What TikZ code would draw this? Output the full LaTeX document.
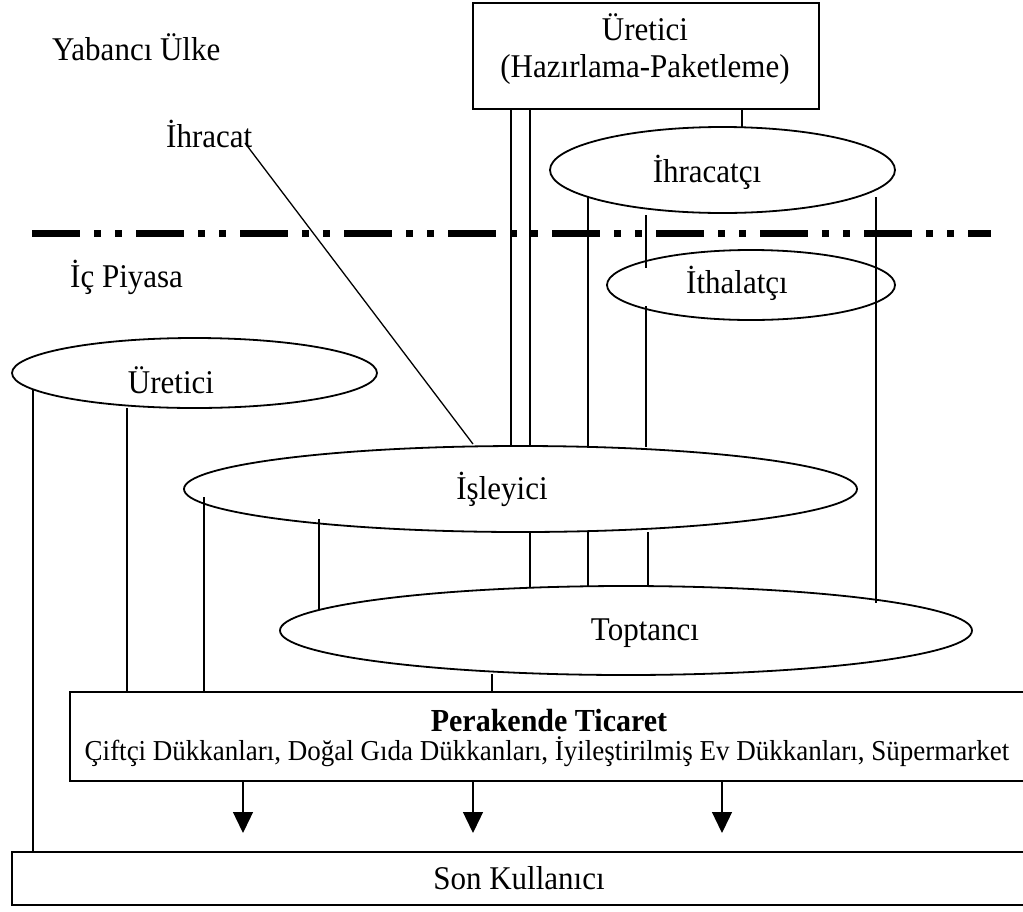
\documentclass[tikz,border=0pt]{standalone}
\usepackage{fontspec}
\usepackage{graphicx}
\setmainfont{Liberation Serif}
\usetikzlibrary{shapes.geometric,arrows.meta}
\newcommand{\stxt}[1]{\scalebox{1}[1.07]{#1}}
\tikzset{
  ell/.style={ellipse, draw, line width=1.8pt, inner sep=0pt},
  boxn/.style={rectangle, draw, line width=1.8pt, inner sep=0pt},
  conn/.style={line width=1.3pt},
  lbl/.style={inner sep=0pt, anchor=base, font=\fontsize{31}{37}\selectfont},
  lblw/.style={inner sep=0pt, anchor=base west, font=\fontsize{31}{37}\selectfont},
  arr/.style={line width=1.3pt, -{Triangle[length=21pt,width=20pt]}},
  border/.style={line width=7pt, dash pattern=on 48pt off 14pt on 7pt off 14pt on 7pt off 14pt},
}
\begin{document}
\begin{tikzpicture}[x=1pt,y=-1pt]
\useasboundingbox (0,0) rectangle (1023,911);
\clip (0,0) rectangle (1023,911);

% shapes
\node[boxn, minimum width=346pt, minimum height=106pt] (topbox) at (646,56) {};
\node[ell, minimum width=345pt, minimum height=86pt] (ihracatci) at (722.5,170) {};
\node[ell, minimum width=288pt, minimum height=70pt] (ithalatci) at (751,285) {};
\node[ell, minimum width=365pt, minimum height=70pt] (ureticiE) at (194.5,373) {};
\node[ell, minimum width=673pt, minimum height=86pt] (isleyici) at (520.5,489) {};
\node[ell, minimum width=692pt, minimum height=89pt] (toptanci) at (626,630.5) {};
\node[boxn, minimum width=956pt, minimum height=89pt] (perakende) at (548,736.5) {};
\node[boxn, minimum width=1014pt, minimum height=53pt] (son) at (519,878.5) {};

% texts
\node[lblw] (tyab) at (52,60) {\stxt{Yabancı Ülke}};
\node[lblw] (tihr) at (166,147) {\stxt{İhracat}};
\node[lblw] (tic) at (70,287) {\stxt{İç Piyasa}};
\node[lbl] (ttop1) at (645,40) {\stxt{Üretici}};
\node[lbl] (ttop2) at (645,77) {\stxt{(Hazırlama-Paketleme)}};
\node[lbl] (tihracatci) at (707,182) {\stxt{İhracatçı}};
\node[lbl] (tithalatci) at (737,293) {\stxt{İthalatçı}};
\node[lbl] (turetici) at (171,393) {\stxt{Üretici}};
\node[lbl] (tisleyici) at (502,499) {\stxt{İşleyici}};
\node[lbl] (ttoptanci) at (645,640) {\stxt{Toptancı}};
\node[inner sep=0pt, anchor=base, font=\fontsize{30}{36}\selectfont\bfseries] (tper1) at (549,731) {\stxt{Perakende Ticaret}};
\node[inner sep=0pt, anchor=base, font=\fontsize{27}{32}\selectfont] (tper2) at (547,760) {\stxt{Çiftçi Dükkanları, Doğal Gıda Dükkanları, İyileştirilmiş Ev Dükkanları, Süpermarket}};
\node[lbl] (tson) at (519,889) {\stxt{Son Kullanıcı}};

% border line
\coordinate (bl) at (32,233);
\coordinate (br) at (991,233);
\draw[border] (bl) -- (br);

% connector end points
\coordinate (a1) at (511,109);  \coordinate (a2) at (511,445);
\coordinate (b1) at (530,109);  \coordinate (b2) at (530,445);
\coordinate (b3) at (530,532);  \coordinate (b4) at (530,587);
\coordinate (c1) at (742,109);  \coordinate (c2) at (742,127);
\coordinate (d1) at (588,197);  \coordinate (d2) at (588,446);
\coordinate (d3) at (588,532);  \coordinate (d4) at (588,587);
\coordinate (e1) at (646,215);  \coordinate (e2) at (646,268);
\coordinate (e3) at (646,306);  \coordinate (e4) at (646,447);
\coordinate (e5) at (648,532);  \coordinate (e6) at (648,586);
\coordinate (f1) at (876,197);  \coordinate (f2) at (876,603);
\coordinate (g1) at (33,390);   \coordinate (g2) at (33,852);
\coordinate (h1) at (127,408);  \coordinate (h2) at (127,692);
\coordinate (i1) at (204,497);  \coordinate (i2) at (204,692);
\coordinate (j1) at (319,519);  \coordinate (j2) at (319,610);
\coordinate (k1) at (492,674);  \coordinate (k2) at (492,692);
\coordinate (l1) at (245,143);  \coordinate (l2) at (473,444);
\coordinate (m1) at (243,781);  \coordinate (m2) at (243,833);
\coordinate (n1) at (473,781);  \coordinate (n2) at (473,833);
\coordinate (o1) at (722,781);  \coordinate (o2) at (722,833);

\draw[conn] (a1) -- (a2);
\draw[conn] (b1) -- (b2);
\draw[conn] (b3) -- (b4);
\draw[conn] (c1) -- (c2);
\draw[conn] (d1) -- (d2);
\draw[conn] (d3) -- (d4);
\draw[conn] (e1) -- (e2);
\draw[conn] (e3) -- (e4);
\draw[conn] (e5) -- (e6);
\draw[conn] (f1) -- (f2);
\draw[conn] (g1) -- (g2);
\draw[conn] (h1) -- (h2);
\draw[conn] (i1) -- (i2);
\draw[conn] (j1) -- (j2);
\draw[conn] (k1) -- (k2);
\draw[conn] (l1) -- (l2);
\draw[arr] (m1) -- (m2);
\draw[arr] (n1) -- (n2);
\draw[arr] (o1) -- (o2);
\end{tikzpicture}
\end{document}
